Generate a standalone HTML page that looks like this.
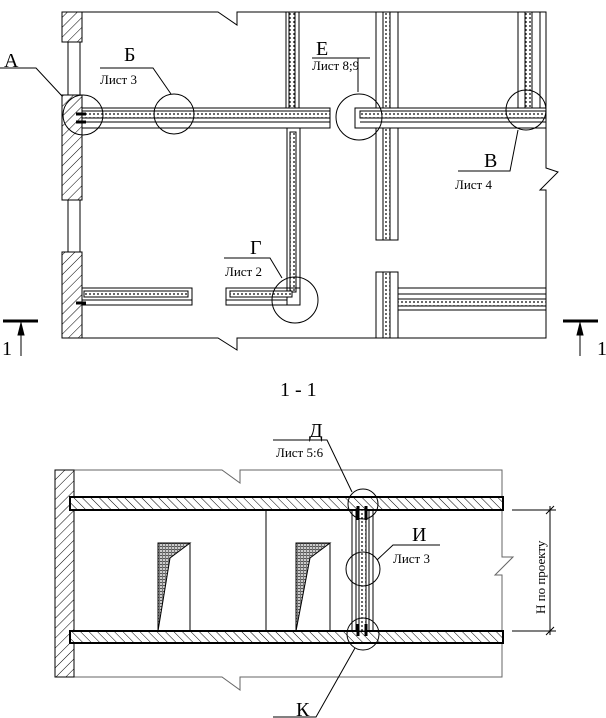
<!DOCTYPE html>
<html><head><meta charset="utf-8"><style>
html,body{margin:0;padding:0;background:#fff}
svg{display:block}
text{font-family:"Liberation Serif",serif;fill:#000}
</style></head><body>
<svg width="606" height="718" viewBox="0 0 606 718" xmlns="http://www.w3.org/2000/svg">
<defs>
<pattern id="h" width="7" height="7" patternUnits="userSpaceOnUse" patternTransform="rotate(45)">
<rect width="7" height="7" fill="#fff"/><line x1="0" y1="0" x2="0" y2="7" stroke="#000" stroke-width="1"/></pattern>
<pattern id="h2" width="6" height="6" patternUnits="userSpaceOnUse" patternTransform="rotate(-45)">
<rect width="6" height="6" fill="#fff"/><line x1="0" y1="0" x2="0" y2="6" stroke="#000" stroke-width="1"/></pattern>
<pattern id="d" width="4" height="4" patternUnits="userSpaceOnUse">
<rect width="4" height="4" fill="#fff"/><circle cx="2" cy="2" r="0.9" fill="#000"/></pattern>
<pattern id="g" width="3" height="3" patternUnits="userSpaceOnUse">
<rect width="3" height="3" fill="#ccc"/><rect width="3" height="1" fill="#555"/><rect width="1" height="3" fill="#777"/></pattern>
</defs>
<g fill="none" stroke="#000" stroke-width="1">
<polyline points="82,12 218,12 237,25 237,12 546,12 546,168 558,172 540,190 546,190 546,338 237,338 237,350 218,338 82,338"/>
<rect x="62" y="12" width="20" height="30" fill="url(#h)"/>
<rect x="62" y="95" width="20" height="105" fill="url(#h)"/>
<rect x="62" y="252" width="20" height="86" fill="url(#h)"/>
<line x1="68" y1="42" x2="68" y2="95"/><line x1="80" y1="42" x2="80" y2="95"/>
<line x1="68" y1="200" x2="68" y2="252"/><line x1="80" y1="200" x2="80" y2="252"/>
<rect x="82" y="108" width="248" height="20"/>
<rect x="82" y="111" width="248" height="7" fill="url(#d)"/>
<line x1="82" y1="122" x2="330" y2="122"/>
<rect x="355" y="108" width="191" height="20"/>
<rect x="360" y="111" width="186" height="7" fill="url(#d)"/>
<line x1="360" y1="122" x2="546" y2="122"/>
<rect x="286" y="12" width="13" height="96"/><rect x="289" y="12" width="6" height="96" fill="url(#d)"/>
<rect x="287" y="128" width="13" height="177"/><rect x="290" y="132" width="6" height="160" fill="url(#d)"/>
<rect x="226" y="288" width="74" height="17"/><rect x="230" y="291" width="62" height="6" fill="url(#d)"/>
<rect x="82" y="288" width="110" height="17"/><rect x="84" y="291" width="104" height="6" fill="url(#d)"/>
<line x1="82" y1="300" x2="192" y2="300"/><line x1="226" y1="300" x2="287" y2="300"/>
<rect x="376" y="12" width="22" height="96"/><rect x="383" y="12" width="7" height="96" fill="url(#d)"/>
<rect x="376" y="128" width="22" height="112"/><rect x="383" y="128" width="7" height="112" fill="url(#d)"/>
<rect x="518" y="12" width="22" height="96"/><rect x="525" y="12" width="7" height="96" fill="url(#d)"/>
<rect x="376" y="272" width="22" height="66"/><rect x="383" y="272" width="7" height="66" fill="url(#d)"/>
<rect x="398" y="288" width="148" height="22"/><rect x="398" y="299" width="148" height="7" fill="url(#d)"/>
<line x1="398" y1="294" x2="546" y2="294"/>
<g stroke-width="3"><line x1="76" y1="114" x2="86" y2="114"/><line x1="76" y1="122" x2="86" y2="122"/><line x1="76" y1="303" x2="86" y2="303"/></g>
<circle cx="83" cy="115" r="20"/><circle cx="174" cy="114" r="20"/><circle cx="359" cy="117" r="23"/>
<circle cx="526" cy="110" r="20"/><circle cx="295" cy="300" r="23"/>
<polyline points="0,68 36,68 62,96"/><polyline points="100,68 153,68 171,94"/>
<polyline points="312,58 370,58"/><line x1="358" y1="58" x2="358" y2="92"/>
<polyline points="458,171 510,171 518,130"/><polyline points="224,258 270,258 282,278"/>
<line x1="3" y1="321" x2="38" y2="321" stroke-width="3"/><line x1="21" y1="322" x2="21" y2="356"/>
<line x1="563" y1="321" x2="598" y2="321" stroke-width="3"/><line x1="580" y1="322" x2="580" y2="356"/>
<polygon points="21,323 18,335 24,335" fill="#000"/><polygon points="580,323 577,335 583,335" fill="#000"/>
<polyline points="74,470 222,470 240,483 240,470 502,470 502,557 513,557 495,575 502,575 502,677 240,677 240,690 222,677 74,677" stroke="#666"/>
<rect x="55" y="470" width="19" height="207" fill="url(#h)"/>
<rect x="70" y="497" width="433" height="13" fill="url(#h2)" stroke-width="2"/>
<rect x="70" y="631" width="433" height="12" fill="url(#h2)" stroke-width="2"/>
<line x1="266" y1="510" x2="266" y2="631"/>
<rect x="158" y="543" width="32" height="88"/><polygon points="158,543 190,543 170,558 158,631" fill="url(#g)"/>
<rect x="296" y="543" width="34" height="88"/><polygon points="296,543 330,543 310,558 296,631" fill="url(#g)"/>
<rect x="352" y="510" width="21" height="121"/>
<line x1="356" y1="510" x2="356" y2="631"/><line x1="369" y1="510" x2="369" y2="631"/>
<rect x="359" y="510" width="7" height="121" fill="url(#d)"/>
<g stroke-width="3"><line x1="358" y1="506" x2="358" y2="520"/><line x1="366" y1="506" x2="366" y2="520"/><line x1="358" y1="624" x2="358" y2="636"/><line x1="366" y1="624" x2="366" y2="636"/></g>
<circle cx="363" cy="504" r="15"/><circle cx="363" cy="569" r="17"/><circle cx="363" cy="634" r="16"/>
<polyline points="273,440 327,440 352,492"/><polyline points="440,545 393,545 377,560"/><polyline points="273,717 316,717 355,648"/>
<line x1="512" y1="510" x2="556" y2="510"/><line x1="512" y1="631" x2="556" y2="631"/><line x1="550" y1="506" x2="550" y2="635"/>
<line x1="546" y1="514" x2="554" y2="506"/><line x1="546" y1="635" x2="554" y2="627"/>
</g>
<g font-size="20">
<text x="4" y="67">А</text><text x="124" y="61">Б</text><text x="316" y="55">Е</text>
<text x="484" y="167">В</text><text x="250" y="254">Г</text>
<text x="309" y="437">Д</text><text x="412" y="541">И</text><text x="296" y="716">К</text>
<text x="2" y="355">1</text><text x="597" y="355">1</text>
<text x="280" y="396">1  -  1</text>
</g>
<g font-size="13">
<text x="100" y="84">Лист 3</text><text x="312" y="70">Лист 8;9</text><text x="455" y="189">Лист 4</text>
<text x="225" y="276">Лист 2</text><text x="276" y="457">Лист 5:6</text><text x="393" y="563">Лист 3</text>
<text transform="translate(545,614) rotate(-90)">Н по проекту</text>
</g>
</svg>
</body></html>
